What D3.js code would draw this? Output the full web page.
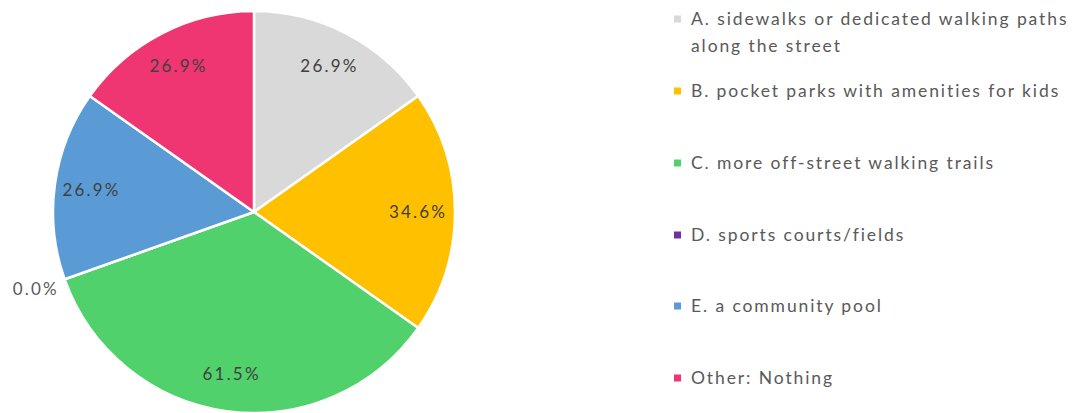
<!DOCTYPE html>
<html>
<head>
<meta charset="utf-8">
<style>
  body { margin: 0; background: #fff; }
  svg text { font-family: Lato, "Open Sans", sans-serif; }
</style>
</head>
<body>
<div id="pieChart"></div>
<script src="https://d3js.org/d3.v7.min.js"></script>
<script>
    // chart data
    var categories = ["A. sidewalks or dedicated walking paths along the street",
                      "B. pocket parks with amenities for kids",
                      "C. more off-street walking trails",
                      "D. sports courts/fields",
                      "E. a community pool",
                      "Other: Nothing"];
    var legendLines = [["A. sidewalks or dedicated walking paths", "along the street"],
                       ["B. pocket parks with amenities for kids"],
                       ["C. more off-street walking trails"],
                       ["D. sports courts/fields"],
                       ["E. a community pool"],
                       ["Other: Nothing"]];
    var percents = [26.9, 34.6, 61.5, 0.0, 26.9, 26.9];
    var colors = ["#d9d9d9", "#ffc000", "#51d16b", "#7030a0", "#5b9bd5", "#ef3672"];

    var width = 1076, height = 413;
    var cx = 254, cy = 212, radius = 201;

    var svg = d3.select("#pieChart")
        .append("svg")
        .attr("width", width)
        .attr("height", height);

    var color = d3.scaleOrdinal().domain(categories).range(colors);

    var pie = d3.pie().sort(null).value(function(d) { return d; });
    var arcs = pie(percents);

    var arc = d3.arc().innerRadius(0).outerRadius(radius);
    var labelArc = d3.arc().innerRadius(164).outerRadius(164);

    var g = svg.append("g").attr("transform", "translate(" + cx + "," + cy + ")");

    g.selectAll("path")
        .data(arcs)
        .enter().append("path")
        .attr("d", arc)
        .attr("fill", function(d, i) { return color(categories[i]); })
        .attr("stroke", "#fff")
        .attr("stroke-width", 2.5);

    // labels: inside for non-zero slices, outside (left of the edge) for the empty one
    g.selectAll("text.lbl")
        .data(arcs)
        .enter().append("text")
        .attr("class", "lbl")
        .attr("transform", function(d) {
            if (d.data === 0) {
                var a = d.startAngle;
                return "translate(" + (Math.sin(a) * 207) + "," + (-Math.cos(a) * 207 + 8) + ")";
            }
            return "translate(" + labelArc.centroid(d) + ")";
        })
        .attr("text-anchor", function(d) { return d.data === 0 ? "end" : "middle"; })
        .attr("dy", "0.35em")
        .attr("font-size", 17)
        .attr("letter-spacing", 2.2)
        .attr("fill", function(d) { return d.data === 0 ? "#595959" : "#404040"; })
        .text(function(d) { return d.data.toFixed(1) + "%"; });

    // legend
    var legendY = [19, 91, 163, 235, 306, 378];
    var legend = svg.append("g").attr("class", "legend");

    var item = legend.selectAll("g")
        .data(categories)
        .enter().append("g")
        .attr("transform", function(d, i) { return "translate(674," + legendY[i] + ")"; });

    item.append("rect")
        .attr("x", 0).attr("y", -3.5)
        .attr("width", 7).attr("height", 7)
        .attr("fill", function(d) { return color(d); });

    item.append("text")
        .attr("x", 17)
        .attr("font-size", 17.5)
        .attr("letter-spacing", 1.9)
        .attr("fill", "#595959")
        .selectAll("tspan")
        .data(function(d, i) { return legendLines[i]; })
        .enter().append("tspan")
        .attr("x", 17)
        .attr("dy", function(d, j) { return j === 0 ? "0.35em" : "27px"; })
        .text(function(d) { return d; });
</script>
</body>
</html>
